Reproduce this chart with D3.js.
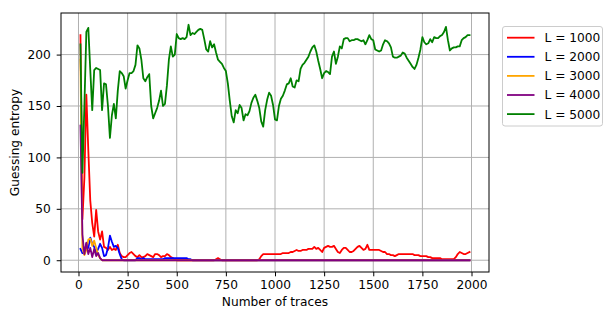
<!DOCTYPE html>
<html>
<head>
<meta charset="utf-8">
<script src="https://cdn.jsdelivr.net/npm/d3@7"></script>
<style>
    body { margin: 0; background: #fff; }
    svg { display: block; font-family: "DejaVu Sans", sans-serif; }
</style>
</head>
<body>
<script>
// number of traces on the x axis: 10, 20, ... 1990
const traces = d3.range(10, 2000, 10);
const labels = ["L = 1000", "L = 2000", "L = 3000", "L = 4000", "L = 5000"];
const colors = ["red", "blue", "orange", "purple", "green"];
const xTicks = [0, 250, 500, 750, 1000, 1250, 1500, 1750, 2000];
const yTicks = [0, 50, 100, 150, 200];

const ge1000 = [
    219, 40, 80, 161, 107, 58, 36, 23, 49, 28,
    20, 28, 13, 12, 10, 13, 10, 11, 10, 15,
    7, 4, 3, 3, 5, 7, 8, 6, 4, 3,
    5, 3, 3, 4, 6, 5, 4, 3, 6, 6,
    5, 3, 4, 4, 6, 5, 3, 2, 1, 0,
    0, 0, 0, 0, 0, 0, 0, 0, 0, 0,
    0, 0, 0, 0, 0, 0, 0, 0, 0, 1,
    2, 1, 0, 0, 0, 0, 0, 0, 0, 0,
    0, 0, 0, 0, 0, 0, 0, 0, 0, 0,
    0, 1, 4, 6, 6, 6, 6, 6, 6, 6,
    6, 6, 6, 7, 7, 7, 7, 8, 8, 9,
    10, 9, 9, 10, 10, 10, 11, 11, 11, 13,
    11, 12, 10, 8, 12, 13, 14, 13, 13, 14,
    11, 8, 7, 10, 12, 12, 10, 8, 8, 9,
    11, 13, 14, 12, 10, 11, 15, 10, 10, 10,
    10, 10, 10, 9, 8, 8, 6, 6, 5, 5,
    4, 5, 6, 6, 6, 6, 6, 6, 6, 6,
    5, 5, 5, 4, 4, 4, 4, 3, 3, 2,
    2, 2, 2, 2, 1, 1, 1, 1, 1, 1,
    1, 3, 6, 8, 7, 6, 6, 7, 8
];
const ge2000 = [
    11, 7, 7, 16, 12, 22, 16, 13, 7, 11,
    16, 12, 4, 5, 12, 24, 18, 13, 14, 12,
    6, 1, 0, 0, 0, 0, 0, 0, 0, 2,
    2, 1, 2, 1, 1, 1, 1, 1, 1, 1,
    1, 1, 1, 2, 2, 2, 2, 2, 2, 2,
    2, 2, 2, 2, 2, 1, 1, 0, 0, 0,
    0, 0, 0, 0, 0, 0, 0, 0, 0, 0,
    0, 0, 0, 0, 0, 0, 0, 0, 0, 0,
    0, 0, 0, 0, 0, 0, 0, 0, 0, 0,
    0, 0, 0, 0, 0, 0, 0, 0, 0, 0,
    0, 0, 0, 0, 0, 0, 0, 0, 0, 0,
    0, 0, 0, 0, 0, 0, 0, 0, 0, 0,
    0, 0, 0, 0, 0, 0, 0, 0, 0, 0,
    0, 0, 0, 0, 0, 0, 0, 0, 0, 0,
    0, 0, 0, 0, 0, 0, 0, 0, 0, 0,
    0, 0, 0, 0, 0, 0, 0, 0, 0, 0,
    0, 0, 0, 0, 0, 0, 0, 0, 0, 0,
    0, 0, 0, 0, 0, 0, 0, 0, 0, 0,
    0, 0, 0, 0, 0, 0, 0, 0, 0, 0,
    0, 0, 0, 0, 0, 0, 0, 0, 0
];
const ge3000 = [
    195, 12, 5, 10, 20, 21, 14, 19, 12, 5,
    2, 0, 0, 0, 0, 0, 0, 0, 0, 0,
    0, 0, 0, 0, 0, 0, 0, 0, 0, 0,
    0, 0, 0, 0, 0, 0, 0, 0, 0, 0,
    0, 0, 0, 0, 0, 0, 0, 0, 0, 0,
    0, 0, 0, 0, 0, 0, 0, 0, 0, 0,
    0, 0, 0, 0, 0, 0, 0, 0, 0, 0,
    0, 0, 0, 0, 0, 0, 0, 0, 0, 0,
    0, 0, 0, 0, 0, 0, 0, 0, 0, 0,
    0, 0, 0, 0, 0, 0, 0, 0, 0, 0,
    0, 0, 0, 0, 0, 0, 0, 0, 0, 0,
    0, 0, 0, 0, 0, 0, 0, 0, 0, 0,
    0, 0, 0, 0, 0, 0, 0, 0, 0, 0,
    0, 0, 0, 0, 0, 0, 0, 0, 0, 0,
    0, 0, 0, 0, 0, 0, 0, 0, 0, 0,
    0, 0, 0, 0, 0, 0, 0, 0, 0, 0,
    0, 0, 0, 0, 0, 0, 0, 0, 0, 0,
    0, 0, 0, 0, 0, 0, 0, 0, 0, 0,
    0, 0, 0, 0, 0, 0, 0, 0, 0, 0,
    0, 0, 0, 0, 0, 0, 0, 0, 0
];
const ge4000 = [
    131, 25, 6, 17, 6, 12, 3, 11, 4, 7,
    2, 0, 0, 0, 0, 0, 0, 0, 0, 0,
    0, 0, 0, 0, 0, 0, 0, 0, 0, 0,
    0, 0, 0, 0, 0, 0, 0, 0, 0, 0,
    0, 0, 0, 0, 0, 0, 0, 0, 0, 0,
    0, 0, 0, 0, 0, 0, 0, 0, 0, 0,
    0, 0, 0, 0, 0, 0, 0, 0, 0, 0,
    0, 0, 0, 0, 0, 0, 0, 0, 0, 0,
    0, 0, 0, 0, 0, 0, 0, 0, 0, 0,
    0, 0, 0, 0, 0, 0, 0, 0, 0, 0,
    0, 0, 0, 0, 0, 0, 0, 0, 0, 0,
    0, 0, 0, 0, 0, 0, 0, 0, 0, 0,
    0, 0, 0, 0, 0, 0, 0, 0, 0, 0,
    0, 0, 0, 0, 0, 0, 0, 0, 0, 0,
    0, 0, 0, 0, 0, 0, 0, 0, 0, 0,
    0, 0, 0, 0, 0, 0, 0, 0, 0, 0,
    0, 0, 0, 0, 0, 0, 0, 0, 0, 0,
    0, 0, 0, 0, 0, 0, 0, 0, 0, 0,
    0, 0, 0, 0, 0, 0, 0, 0, 0, 0,
    0, 0, 0, 0, 0, 0, 0, 0, 0
];
const ge5000 = [
    210, 85, 150, 222, 226, 185, 146, 185, 187, 186,
    185, 146, 172, 171, 150, 119, 141, 152, 138, 165,
    184, 182, 179, 167, 175, 182, 182, 184, 190, 209,
    206, 195, 177, 174, 178, 181, 150, 138, 143, 148,
    155, 165, 150, 152, 170, 195, 208, 198, 200, 220,
    216, 215, 216, 215, 217, 229, 219, 221, 220, 222,
    224, 225, 224, 215, 205, 203, 213, 207, 210, 202,
    195, 193, 191, 187, 184, 172, 155, 140, 134, 146,
    143, 151, 148, 136, 142, 141, 145, 153, 158, 161,
    155, 148, 135, 130, 146, 156, 163, 160, 151, 137,
    136, 150, 157, 160, 165, 171, 172, 177, 169, 168,
    175, 174, 186, 190, 192, 195, 198, 203, 207, 209,
    203, 194, 186, 177, 182, 184, 183, 181, 198, 203,
    191, 198, 208, 206, 215, 216, 216, 213, 214, 214,
    215, 215, 214, 213, 214, 210, 214, 219, 215, 214,
    205, 204, 203, 204, 210, 214, 213, 211, 207, 198,
    197, 197, 198, 199, 202, 201, 197, 194, 191, 188,
    186, 190, 197, 205, 217, 212, 210, 211, 215, 212,
    217, 216, 216, 218, 219, 222, 227, 214, 204, 206,
    207, 207, 208, 208, 214, 216, 217, 219, 219
];
const series = [ge1000, ge2000, ge3000, ge4000, ge5000];

const width = 604, height = 309;
const fontSize = 12.2;
const plot = {left: 61, right: 489, top: 13, bottom: 272};

const svg = d3.select("body").append("svg")
    .attr("width", width)
    .attr("height", height);

// matplotlib style 5% margins round the data
const xPad = (d3.max(traces) - d3.min(traces)) * 0.05;
const x = d3.scaleLinear()
    .domain([d3.min(traces) - xPad, d3.max(traces) + xPad])
    .range([plot.left, plot.right]);
const all = series.flat();
const yPad = (d3.max(all) - d3.min(all)) * 0.05;
const y = d3.scaleLinear()
    .domain([d3.min(all) - yPad, d3.max(all) + yPad])
    .range([plot.bottom, plot.top]);

// grid
const grid = svg.append("g").attr("stroke", "#b0b0b0").attr("stroke-width", 1);
grid.selectAll(".gx").data(xTicks).join("line")
    .attr("x1", d => x(d)).attr("x2", d => x(d))
    .attr("y1", plot.top).attr("y2", plot.bottom);
grid.selectAll(".gy").data(yTicks).join("line")
    .attr("x1", plot.left).attr("x2", plot.right)
    .attr("y1", d => y(d)).attr("y2", d => y(d));

// lines
const line = d3.line()
    .x((d, i) => x(traces[i]))
    .y(d => y(d));

svg.append("g")
    .attr("fill", "none")
    .attr("stroke-width", 1.8)
    .attr("stroke-linejoin", "round")
    .attr("stroke-linecap", "square")
    .selectAll("path")
    .data(series)
    .join("path")
    .attr("stroke", (d, i) => colors[i])
    .attr("d", line);

// axes
const xAxis = svg.append("g")
    .attr("transform", `translate(0,${plot.bottom})`)
    .call(d3.axisBottom(x).tickValues(xTicks).tickFormat(d3.format("d")).tickSize(4.3).tickPadding(4));
const yAxis = svg.append("g")
    .attr("transform", `translate(${plot.left},0)`)
    .call(d3.axisLeft(y).tickValues(yTicks).tickFormat(d3.format("d")).tickSize(4.3).tickPadding(6));

[xAxis, yAxis].forEach(a => {
    a.select(".domain").remove();
    a.selectAll("line").attr("stroke", "#000").attr("stroke-width", 1);
    a.selectAll("text")
        .attr("fill", "#000")
        .attr("font-size", fontSize)
        .attr("font-family", "DejaVu Sans, sans-serif");
});

svg.append("rect")
    .attr("x", plot.left).attr("y", plot.top)
    .attr("width", plot.right - plot.left)
    .attr("height", plot.bottom - plot.top)
    .attr("fill", "none")
    .attr("stroke", "#000")
    .attr("stroke-width", 1);

// axis labels
svg.append("text")
    .attr("x", (plot.left + plot.right) / 2)
    .attr("y", 306)
    .attr("text-anchor", "middle")
    .attr("font-size", fontSize)
    .text("Number of traces");

svg.append("text")
    .attr("transform", `translate(19,${(plot.top + plot.bottom) / 2}) rotate(-90)`)
    .attr("text-anchor", "middle")
    .attr("font-size", fontSize)
    .text("Guessing entropy");

// legend
const legend = svg.append("g").attr("transform", "translate(502.5,26.5)");
legend.append("rect")
    .attr("width", 100)
    .attr("height", 99.5)
    .attr("rx", 2.5)
    .attr("fill", "#fff")
    .attr("fill-opacity", 0.8)
    .attr("stroke", "#cccccc")
    .attr("stroke-width", 1);

const item = legend.selectAll(".item")
    .data(labels)
    .join("g")
    .attr("transform", (d, i) => `translate(0,${11.2 + i * 19.1})`);
item.append("line")
    .attr("x1", 4.5).attr("x2", 32)
    .attr("stroke", (d, i) => colors[i])
    .attr("stroke-width", 1.8);
item.append("text")
    .attr("x", 42)
    .attr("dy", "0.36em")
    .attr("font-size", fontSize)
    .text(d => d);
</script>
</body>
</html>
